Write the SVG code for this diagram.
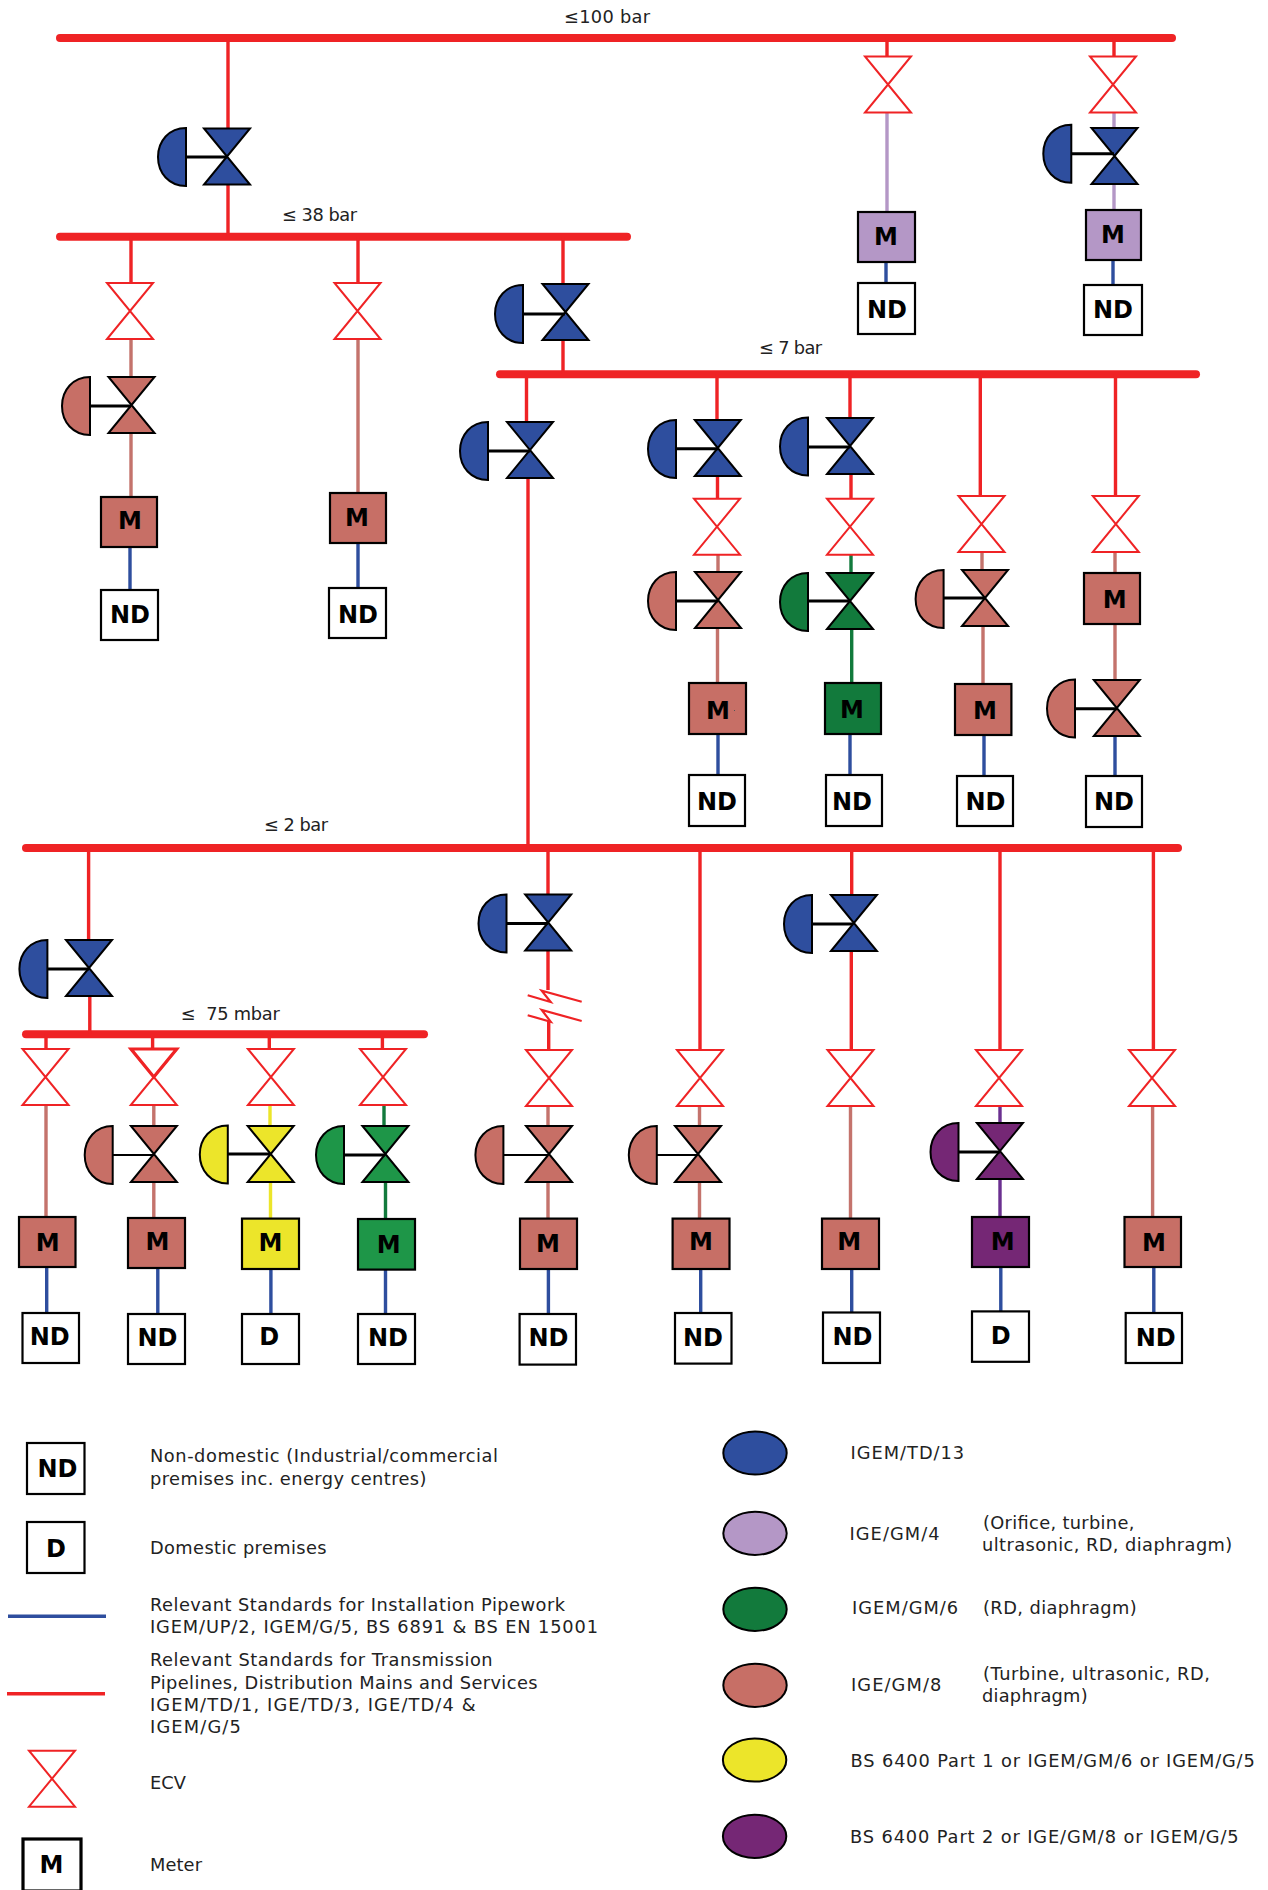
<svg xmlns="http://www.w3.org/2000/svg" width="1268" height="1890" viewBox="0 0 1268 1890">
<style>
text{font-family:"DejaVu Sans","Verdana",sans-serif;fill:#222;font-size:17.8px}
.lb{font-weight:bold;font-size:24px;text-anchor:middle;fill:#000}
.bus{stroke:#ef2325;stroke-width:8;stroke-linecap:round;fill:none}
.r,.p,.br,.g,.y,.v,.b{fill:none;stroke-width:3.4}
.r{stroke:#ef2325}.p{stroke:#b497c6}.br{stroke:#c4736c}.g{stroke:#127a3c}.y{stroke:#ece52a}.v{stroke:#6b3090}.b{stroke:#2e4e9e}
.stem{stroke:#000;stroke-width:3;fill:none}
.thin{stroke-width:2}
.box{stroke:#000;stroke-width:2.2}
.heavy{stroke-width:3.2}
.ecv{fill:#fff;stroke:#ef2325;stroke-width:2}
.ol{stroke:#000;stroke-width:2;stroke-linejoin:miter}
.fb{fill:#2e4e9e}.fp{fill:#b497c6}.fg{fill:#127a3c}.fl{fill:#1e9648}.fr{fill:#c76f66}.fy{fill:#ece52a}.fv{fill:#752775}.fw{fill:#fff}
</style>
<defs>
<path id="ecv" class="ecv" d="M-23 -28H23L-23 28H23Z"/>
<path id="valve" class="ol" d="M-23 -28H23L-23 28H23Z"/>
<path id="act" class="ol" d="M0 -29C-17 -29 -28 -16 -28 0C-28 16 -17 29 0 29Z"/>
</defs>
<g id="connectors">
<path class="bus" d="M60 38H1172"/>
<path class="bus" d="M60 236.7H627"/>
<path class="bus" d="M500 374.3H1196"/>
<path class="bus" d="M26 848H1178"/>
<path class="bus" d="M26 1034.3H424"/>
<path class="r" d="M228 38V128M228 184V236M131 237V283M358 237V283M563 237V285M563 340V374M526.5 374V422M528 478V848M887 38V57M1114 38V57M717 374V420M717.5 476V498M850 374V418M851 474V498M980.3 374V496M1115.5 374V496M88.6 848V940M89.8 996V1034M46 1034V1049M152.6 1034V1049M269.3 1034V1049M382.4 1034V1049M548 848V894M548 950V990M548.7 1021V1050M700 848V1050M851.7 848V895M851.3 951V1050M1000 848V1050M1153.4 848V1050"/>
<path fill="none" stroke="#ef2325" stroke-width="2.2" d="M527.7 995.3L550.7 1002L541.7 990.7L581.7 1001.7M527.7 1015.3L550.7 1021.7L541.7 1010L581.7 1021"/>
<path class="br" d="M131 339V377M131 433V497M358 339V493M718 555V572M717.5 628V683M982 552V570M983 626V684M1115 552V573M1115 624V680M46 1105V1217M153.8 1105V1126M153.8 1182V1218M548 1106V1126M548 1182V1218M699.5 1106V1126M699.5 1182V1218M850.5 1106V1218M1152.6 1106V1217"/>
<path class="p" d="M887 113V212M1114 113V128M1114 184V210"/>
<path class="g" d="M851 555V573M851.7 629V683M384 1105V1126M385.5 1182V1218"/>
<path class="y" d="M270 1105V1126M270.5 1182V1218"/>
<path class="v" d="M1000 1106V1123M1000 1179V1217"/>
<path class="b" d="M130 547V590M358 543V588M886 262V283M1113 260V285M718 734V775M850 734V775M984 735V776M1115 736V776M46.7 1267V1313M157.8 1268V1314M270.9 1269V1314M385.5 1270V1314M548.4 1269V1314M700.7 1268V1313M851.7 1269V1313M1000.8 1267V1312M1153.8 1267V1314"/>
</g>
<g id="reg-100-38"><use href="#valve" x="227" y="156.5" class="fb"/><use href="#act" x="186" y="157" class="fb"/><path class="stem" d="M186 157H227"/></g>
<g id="reg-38-7"><use href="#valve" x="565.5" y="312" class="fb"/><use href="#act" x="523" y="314" class="fb"/><path class="stem" d="M523 314H565"/></g>
<g id="reg-7-2"><use href="#valve" x="530" y="450" class="fb"/><use href="#act" x="488" y="451" class="fb"/><path class="stem" d="M488 451H530"/></g>
<g id="col-a">
<use href="#ecv" x="130" y="311"/>
<use href="#valve" x="131.5" y="405" class="fr"/><use href="#act" x="90" y="406" class="fr"/><path class="stem" d="M90 406H131"/>
<rect class="box fr" x="101" y="497" width="56" height="50"/><text class="lb" x="130" y="528.6">M</text>
<rect class="box fw" x="101" y="590" width="57" height="50"/><text class="lb" x="130" y="623">ND</text>
</g>
<g id="col-b">
<use href="#ecv" x="357.5" y="311"/>
<rect class="box fr" x="330" y="493" width="56" height="50"/><text class="lb" x="357" y="526">M</text>
<rect class="box fw" x="329" y="588" width="57" height="50"/><text class="lb" x="358" y="622.5">ND</text>
</g>
<g id="col-d">
<use href="#ecv" x="888" y="84.5"/>
<rect class="box fp" x="858" y="212" width="57" height="50"/><text class="lb" x="886" y="245">M</text>
<rect class="box fw" x="858" y="283" width="57" height="51"/><text class="lb" x="887" y="317.5">ND</text>
</g>
<g id="col-e">
<use href="#ecv" x="1113" y="84.5"/>
<use href="#valve" x="1114.5" y="156" class="fb"/><use href="#act" x="1071.3" y="153.7" class="fb"/><path class="stem" d="M1071 153.7H1114"/>
<rect class="box fp" x="1086" y="210" width="55" height="50"/><text class="lb" x="1113" y="243">M</text>
<rect class="box fw" x="1084" y="285" width="58" height="50"/><text class="lb" x="1113" y="318">ND</text>
</g>
<g id="col-f">
<use href="#valve" x="717.8" y="448" class="fb"/><use href="#act" x="676" y="449" class="fb"/><path class="stem" d="M676 448.7H718"/>
<use href="#ecv" x="717" y="526.7"/>
<use href="#valve" x="718" y="600" class="fr"/><use href="#act" x="676" y="601" class="fr"/><path class="stem" d="M676 601H718"/>
<rect class="box fr" x="689" y="683" width="57" height="51"/><text class="lb" x="718" y="719">M</text>
<rect x="734" y="710" width="1" height="1" fill="#555"/>
<rect class="box fw" x="689" y="775" width="56" height="51"/><text class="lb" x="717" y="810">ND</text>
</g>
<g id="col-g">
<use href="#valve" x="850" y="446" class="fb"/><use href="#act" x="808" y="446.5" class="fb"/><path class="stem" d="M808 447H850"/>
<use href="#ecv" x="850" y="526.7"/>
<use href="#valve" x="850" y="601" class="fg"/><use href="#act" x="808" y="602" class="fg"/><path class="stem" d="M808 601H850"/>
<rect class="box fg" x="825" y="683" width="56" height="51"/><text class="lb" x="852" y="718">M</text>
<rect class="box fw" x="826" y="775" width="56" height="51"/><text class="lb" x="852" y="810">ND</text>
</g>
<g id="col-h">
<use href="#ecv" x="981.5" y="524"/>
<use href="#valve" x="985" y="598" class="fr"/><use href="#act" x="943.6" y="599" class="fr"/><path class="stem" d="M943.6 598H985"/>
<rect class="box fr" x="955" y="684" width="56.4" height="51"/><text class="lb" x="985" y="719">M</text>
<rect class="box fw" x="957" y="776" width="56" height="50"/><text class="lb" x="985.4" y="810">ND</text>
</g>
<g id="col-i">
<use href="#ecv" x="1115.8" y="524"/>
<rect class="box fr" x="1084" y="573" width="56" height="51"/><text class="lb" x="1114.6" y="608">M</text>
<use href="#valve" x="1116.8" y="708" class="fr"/><use href="#act" x="1075" y="708.5" class="fr"/><path class="stem" d="M1075 708.7H1117"/>
<rect class="box fw" x="1086" y="776" width="56" height="51"/><text class="lb" x="1114" y="810">ND</text>
</g>
<g id="reg-2-75"><use href="#valve" x="89" y="968" class="fb"/><use href="#act" x="47.4" y="969" class="fb"/><path class="stem" d="M47 969H89"/></g>
<g id="col-k1">
<use href="#ecv" x="45.5" y="1077"/>
<rect class="box fr" x="19" y="1217" width="56.5" height="50"/><text class="lb" x="47.8" y="1251">M</text>
<rect class="box fw" x="22.5" y="1313" width="56.5" height="50"/><text class="lb" x="49.8" y="1345">ND</text>
</g>
<g id="col-k2">
<use href="#ecv" x="153.8" y="1077"/>
<path fill="none" stroke="#ef2325" stroke-width="3.2" d="M131 1049H176.7L153.8 1077L131 1049Z"/>
<use href="#valve" x="153.9" y="1154" class="fr"/><use href="#act" x="112.7" y="1155" class="fr"/><path class="stem thin" d="M112.7 1155H154"/>
<rect class="box fr" x="128" y="1218" width="57" height="50"/><text class="lb" x="157.4" y="1249.6">M</text>
<rect class="box fw" x="128" y="1314" width="57" height="50"/><text class="lb" x="157.4" y="1346">ND</text>
</g>
<g id="col-k3">
<use href="#ecv" x="270.9" y="1077"/>
<use href="#valve" x="270.7" y="1154" class="fy"/><use href="#act" x="227.8" y="1154.5" class="fy"/><path class="stem" d="M227.8 1154H270"/>
<rect class="box fy" x="242" y="1218.6" width="57" height="50.4"/><text class="lb" x="270.5" y="1251">M</text>
<rect class="box fw" x="242" y="1314" width="57" height="50"/><text class="lb" x="269.3" y="1345">D</text>
</g>
<g id="col-k4">
<use href="#ecv" x="383" y="1077"/>
<use href="#valve" x="385.4" y="1154" class="fl"/><use href="#act" x="344" y="1155" class="fl"/><path class="stem" d="M344 1155H385"/>
<rect class="box fl" x="358" y="1219" width="57" height="50.6"/><text class="lb" x="388.7" y="1253">M</text>
<rect class="box fw" x="358" y="1314" width="57" height="50"/><text class="lb" x="388" y="1346">ND</text>
</g>
<g id="col-l">
<use href="#valve" x="548.2" y="922.5" class="fb"/><use href="#act" x="506.5" y="923.5" class="fb"/><path class="stem" d="M506.5 923.6H548"/>
<use href="#ecv" x="549" y="1078"/>
<use href="#valve" x="549" y="1154" class="fr"/><use href="#act" x="503.4" y="1155" class="fr"/><path class="stem thin" d="M503.4 1155H548"/>
<rect class="box fr" x="520" y="1218.6" width="57" height="50.4"/><text class="lb" x="548" y="1252">M</text>
<rect class="box fw" x="519.6" y="1314" width="56.4" height="50.6"/><text class="lb" x="548.4" y="1346">ND</text>
</g>
<g id="col-m">
<use href="#ecv" x="700" y="1078"/>
<use href="#valve" x="698" y="1154" class="fr"/><use href="#act" x="656.8" y="1155" class="fr"/><path class="stem thin" d="M656.8 1155H698"/>
<rect class="box fr" x="672.6" y="1218.6" width="56.9" height="50.4"/><text class="lb" x="701" y="1249.6">M</text>
<rect class="box fw" x="675" y="1313" width="56.5" height="50.6"/><text class="lb" x="703" y="1346">ND</text>
</g>
<g id="col-n">
<use href="#valve" x="853.9" y="923" class="fb"/><use href="#act" x="812" y="924" class="fb"/><path class="stem" d="M812 924H853"/>
<use href="#ecv" x="850.5" y="1078"/>
<rect class="box fr" x="822" y="1218.6" width="57" height="50.4"/><text class="lb" x="849.3" y="1249.6">M</text>
<rect class="box fw" x="823" y="1312.5" width="57" height="50.5"/><text class="lb" x="852.5" y="1345">ND</text>
</g>
<g id="col-o">
<use href="#ecv" x="999" y="1078"/>
<use href="#valve" x="999.9" y="1151" class="fv"/><use href="#act" x="958.5" y="1152" class="fv"/><path class="stem" d="M958.5 1152H1000"/>
<rect class="box fv" x="972" y="1217" width="57" height="50"/><text class="lb" x="1002.8" y="1249.6">M</text>
<rect class="box fw" x="972" y="1311.4" width="57" height="50.4"/><text class="lb" x="1000.8" y="1344">D</text>
</g>
<g id="col-p">
<use href="#ecv" x="1152" y="1078"/>
<rect class="box fr" x="1124.5" y="1217" width="56.5" height="50"/><text class="lb" x="1154" y="1251">M</text>
<rect class="box fw" x="1125.7" y="1313" width="56.3" height="50"/><text class="lb" x="1155.8" y="1346">ND</text>
</g>
<g id="pressure-labels">
<text x="564" y="23" textLength="86">≤100 bar</text>
<text x="282" y="221" textLength="75">≤ 38 bar</text>
<text x="759" y="354" textLength="63">≤ 7 bar</text>
<text x="264" y="830.7" textLength="64">≤ 2 bar</text>
<text x="180.7" y="1020" textLength="99" xml:space="preserve">≤  75 mbar</text>
</g>
<g id="legend-left">
<rect class="box fw" x="27" y="1443" width="57.5" height="51"/><text class="lb" x="57.5" y="1476.7">ND</text>
<rect class="box fw" x="27" y="1522" width="57.5" height="51"/><text class="lb" x="56" y="1557">D</text>
<path class="b" d="M8 1616.3H106"/>
<path class="r" d="M7 1693.7H105"/>
<use href="#ecv" x="52" y="1778.7"/>
<rect class="box fw heavy" x="23" y="1839" width="58" height="52"/><text class="lb" x="51.4" y="1873">M</text>
<text x="150" y="1462.3" textLength="348">Non-domestic (Industrial/commercial</text>
<text x="150" y="1485" textLength="276.5">premises inc. energy centres)</text>
<text x="150" y="1554" textLength="176.5">Domestic premises</text>
<text x="150" y="1611" textLength="415">Relevant Standards for Installation Pipework</text>
<text x="150" y="1633.3" textLength="448">IGEM/UP/2, IGEM/G/5, BS 6891 &amp; BS EN 15001</text>
<text x="150" y="1666" textLength="342.6">Relevant Standards for Transmission</text>
<text x="150" y="1689" textLength="387.5">Pipelines, Distribution Mains and Services</text>
<text x="150" y="1711" textLength="325.5">IGEM/TD/1, IGE/TD/3, IGE/TD/4 &amp;</text>
<text x="150" y="1733" textLength="90.8">IGEM/G/5</text>
<text x="150" y="1789" textLength="36">ECV</text>
<text x="150" y="1871" textLength="52">Meter</text>
</g>
<g id="legend-right">
<ellipse class="ol fb" cx="755" cy="1453" rx="31.7" ry="21.6"/>
<ellipse class="ol fp" cx="755" cy="1533.3" rx="31.7" ry="21.6"/>
<ellipse class="ol fg" cx="755" cy="1609.3" rx="31.7" ry="21.6"/>
<ellipse class="ol fr" cx="755" cy="1685.3" rx="31.7" ry="21.6"/>
<ellipse class="ol fy" cx="754.6" cy="1760" rx="31.7" ry="21.6"/>
<ellipse class="ol fv" cx="754.6" cy="1836.3" rx="31.7" ry="21.6"/>
<text x="850.6" y="1459.3" textLength="113.6">IGEM/TD/13</text>
<text x="849.5" y="1540" textLength="90">IGE/GM/4</text>
<text x="983" y="1529.3" textLength="151.4">(Orifice, turbine,</text>
<text x="982" y="1551" textLength="250.3">ultrasonic, RD, diaphragm)</text>
<text x="852" y="1614" textLength="106.2">IGEM/GM/6</text>
<text x="983" y="1614" textLength="153.7">(RD, diaphragm)</text>
<text x="851" y="1691.3" textLength="90.3">IGE/GM/8</text>
<text x="983" y="1680.3" textLength="226.8">(Turbine, ultrasonic, RD,</text>
<text x="982" y="1702.3" textLength="105.6">diaphragm)</text>
<text x="850.6" y="1766.7" textLength="404.2">BS 6400 Part 1 or IGEM/GM/6 or IGEM/G/5</text>
<text x="850" y="1843" textLength="388.7">BS 6400 Part 2 or IGE/GM/8 or IGEM/G/5</text>
</g>
</svg>
